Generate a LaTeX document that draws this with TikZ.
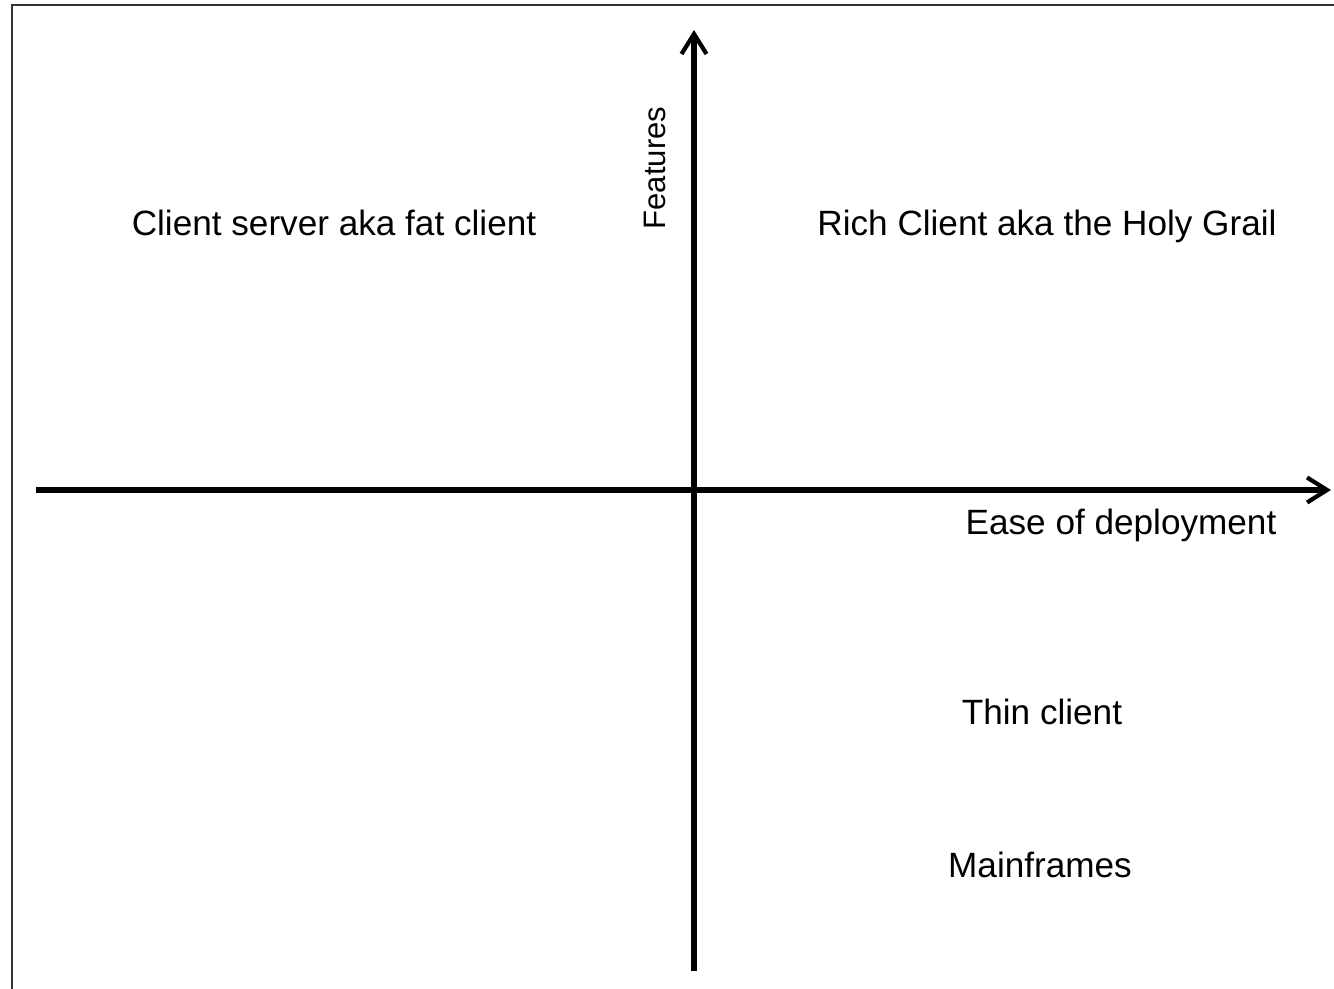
\documentclass[tikz,border=0pt]{standalone}
\usepackage{fontspec}
\setmainfont{Liberation Sans}
\usetikzlibrary{arrows.meta}
\tikzset{
	axis/.style={line width=4.4pt, -{Straight Barb[length=0.6cm,width=0.75cm,line width=3.6pt]}},
	quadlabel/.style={inner sep=0pt, anchor=base, font=\fontsize{30}{36}\selectfont},
}
\begin{document}
\begin{tikzpicture}[x=0.03cm,y=-0.03cm]
	\useasboundingbox (0,0) rectangle (1334,989);
	\draw[line width=2pt, black!80] (12,989) -- (12,5) -- (1334,5);

	\coordinate (xstart) at (36,490);
	\coordinate (xend) at (1331,490);
	\coordinate (ystart) at (694,971);
	\coordinate (yend) at (694,30);
	\draw[axis] (xstart) -- (xend);
	\draw[axis] (ystart) -- (yend);

	\node[quadlabel, rotate=90, font=\fontsize{26.5}{32}\selectfont] (features) at (665,168) {Features};
	\node[quadlabel] (ease) at (1121,534) {Ease of deployment};

	\node[quadlabel] (fatclient) at (334,236) {Client server aka fat client};
	\node[quadlabel] (richclient) at (1047,236) {Rich Client aka the Holy Grail};
	\node[quadlabel] (thinclient) at (1042,724) {Thin client};
	\node[quadlabel] (mainframes) at (1040,877) {Mainframes};
\end{tikzpicture}
\end{document}
